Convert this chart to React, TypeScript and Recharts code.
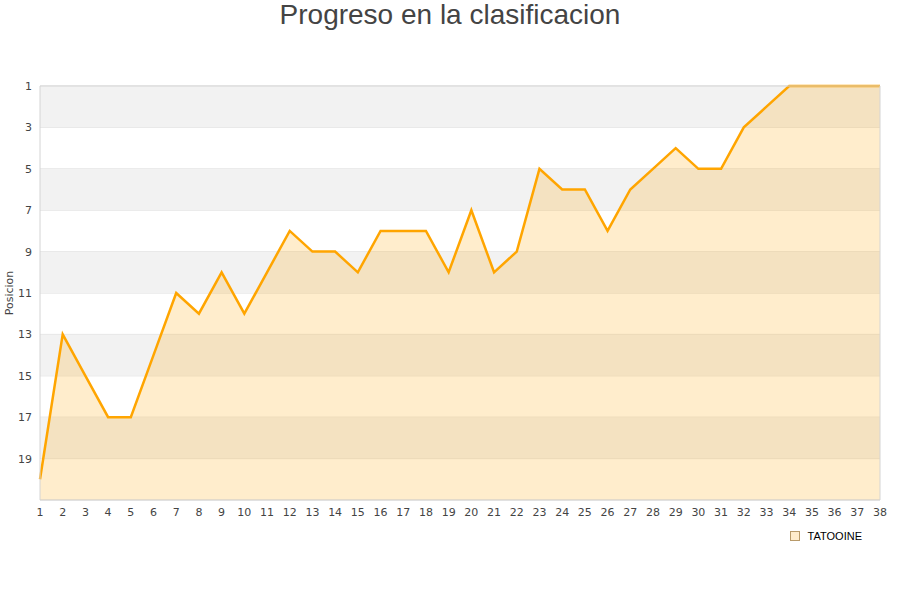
import { ComposedChart, Area, XAxis, YAxis, CartesianGrid, ReferenceArea, Legend } from 'recharts'

const rounds = [1, 2, 3, 4, 5, 6, 7, 8, 9, 10, 11, 12, 13, 14, 15, 16, 17, 18, 19, 20, 21, 22, 23, 24, 25, 26, 27, 28, 29, 30, 31, 32, 33, 34, 35, 36, 37, 38]
const positions = [20, 13, 15, 17, 17, 14, 11, 12, 10, 12, 10, 8, 9, 9, 10, 8, 8, 8, 10, 7, 10, 9, 5, 6, 6, 8, 6, 5, 4, 5, 5, 3, 2, 1, 1, 1, 1, 1]
const yTicks = [1, 3, 5, 7, 9, 11, 13, 15, 17, 19]
const greyBands = [[1, 3], [5, 7], [9, 11], [13, 15], [17, 19]]
const teamName = 'TATOOINE'

const data = rounds.map((r, i) => ({ round: r, pos: positions[i] }))

const orange = '#ffa500'

function LegendContent() {
  return (
    <div style={{ display: 'flex', justifyContent: 'flex-end', alignItems: 'center', paddingRight: 18, fontFamily: '"Liberation Sans", Arial, sans-serif', fontSize: 11, color: '#000' }}>
      <span style={{ display: 'inline-block', width: 8, height: 8, background: '#ffeccc', border: '1px solid #b89a6a', marginRight: 8 }} />
      <span>{teamName}</span>
    </div>
  )
}

export default function App() {
  return (
    <div style={{ position: 'absolute', left: 0, top: 0, width: 900, height: 600, background: '#fff' }}>
      <div style={{ position: 'absolute', top: -1, left: 0, width: 900, textAlign: 'center', fontFamily: '"Liberation Sans", Arial, sans-serif', fontSize: 28, color: '#444', lineHeight: '32px' }}>
        Progreso en la clasificacion
      </div>
      <ComposedChart width={900} height={600} data={data} margin={{ top: 86, right: 20, left: 0, bottom: 50 }}>
        {greyBands.map(([a, b]) => (
          <ReferenceArea key={a} x1={1} x2={38} y1={a} y2={b} fill="#f2f2f2" fillOpacity={1} stroke="none" ifOverflow="visible" />
        ))}
        <CartesianGrid vertical={false} stroke="#dedede" />
        <XAxis
          dataKey="round"
          type="number"
          domain={[1, 38]}
          ticks={rounds}
          interval={0}
          height={30}
          tickSize={0}
          tickMargin={8}
          axisLine={false}
          tick={{ fontSize: 11, fill: '#444', fontFamily: '"DejaVu Sans", sans-serif' }}
        />
        <YAxis
          type="number"
          reversed
          domain={[1, 21]}
          ticks={yTicks}
          interval={0}
          width={40}
          tickSize={0}
          tickMargin={8}
          axisLine={false}
          tick={{ fontSize: 11, fill: '#444', fontFamily: '"DejaVu Sans", sans-serif' }}
          label={{
            content: ({ viewBox }: any) => {
              const cx = viewBox.x + 10
              const cy = viewBox.y + viewBox.height / 2
              return (
                <text x={cx} y={cy} transform={`rotate(-90 ${cx} ${cy})`} textAnchor="middle" dominantBaseline="middle" fontSize={11} fill="#444" fontFamily='"DejaVu Sans", sans-serif'>
                  Posicion
                </text>
              )
            },
          }}
        />
        <Area
          type="linear"
          dataKey="pos"
          name={teamName}
          baseValue="dataMax"
          stroke={orange}
          strokeWidth={2.5}
          fill={orange}
          fillOpacity={0.2}
          isAnimationActive={false}
          dot={false}
          activeDot={false}
        />
        <ReferenceArea x1={1} x2={38} y1={1} y2={21} fill="none" stroke="#d4d4d4" strokeWidth={1} ifOverflow="visible" />
        <Legend verticalAlign="bottom" align="right" height={20} content={<LegendContent />} />
      </ComposedChart>
    </div>
  )
}
